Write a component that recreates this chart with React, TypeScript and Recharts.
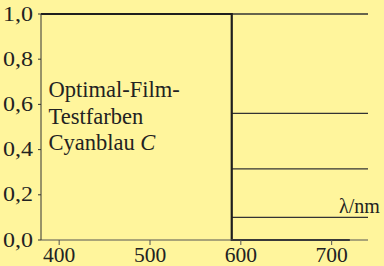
import React from 'react';
import { LineChart, Line, XAxis, YAxis, Customized } from 'recharts';

const xTicks = [400, 500, 600, 700];
const yTicks = [0, 0.2, 0.4, 0.6, 0.8, 1.0];

const mainCurve = [
  { x: 380, y: 1 },
  { x: 590, y: 1 },
  { x: 590, y: 0 },
  { x: 720, y: 0 },
];
const levels = [1.0, 0.56, 0.315, 0.1];
const levelStart = 590;
const levelEnd = 740;
const labelLines = ['Optimal-Film-', 'Testfarben', 'Cyanblau '];
const unitLabel = 'λ/nm';

const FONT = '"Liberation Serif", "Times New Roman", serif';
const BG = '#fff59c';

const XTick = (props: any) => {
  const { x, y, payload } = props;
  return (
    <text x={x} y={y + 14.5} textAnchor="middle" style={{ fontFamily: FONT, fontSize: 21.5 }} fill="#222">
      {String(payload.value)}
    </text>
  );
};

const YTick = (props: any) => {
  const { y, payload } = props;
  return (
    <text
      x={3}
      y={y + 6.5}
      textLength={30}
      lengthAdjust="spacingAndGlyphs"
      style={{ fontFamily: FONT, fontSize: 20 }}
      fill="#222"
    >
      {Number(payload.value).toFixed(1).replace('.', ',')}
    </text>
  );
};

const Annot = () => (
  <g style={{ fontFamily: FONT, fontSize: 22.5 }} fill="#222">
    <text x={48.5} y={96.5}>{labelLines[0]}</text>
    <text x={48.5} y={124}>{labelLines[1]}</text>
    <text x={48.5} y={149.5}>
      {labelLines[2]}
      <tspan fontStyle="italic">C</tspan>
    </text>
    <text x={339} y={213} style={{ fontSize: 20 }}>{unitLabel}</text>
  </g>
);

export default function App() {
  return (
    <div style={{ position: 'absolute', left: 0, top: 0, width: 384, height: 266, background: BG }}>
      <LineChart width={384} height={266} margin={{ top: 14, right: 16, bottom: 0, left: 1 }}>
        <XAxis
          type="number"
          dataKey="x"
          domain={[380, 740]}
          ticks={xTicks}
          allowDataOverflow
          height={26}
          stroke="#555"
          tickSize={5}
          tick={<XTick />}
        />
        <YAxis
          type="number"
          dataKey="y"
          domain={[0, 1]}
          ticks={yTicks}
          width={40}
          stroke="#333"
          tickSize={3}
          tick={<YTick />}
        />
        {levels.map((lv, i) => (
          <Line
            key={i}
            data={[{ x: levelStart, y: lv }, { x: levelEnd, y: lv }]}
            dataKey="y"
            stroke="#333"
            strokeWidth={1.3}
            dot={false}
            isAnimationActive={false}
          />
        ))}
        <Line
          data={mainCurve}
          dataKey="y"
          stroke="#1e1e1e"
          strokeWidth={2.2}
          dot={false}
          isAnimationActive={false}
        />
        <Customized component={<Annot />} />
      </LineChart>
    </div>
  );
}
